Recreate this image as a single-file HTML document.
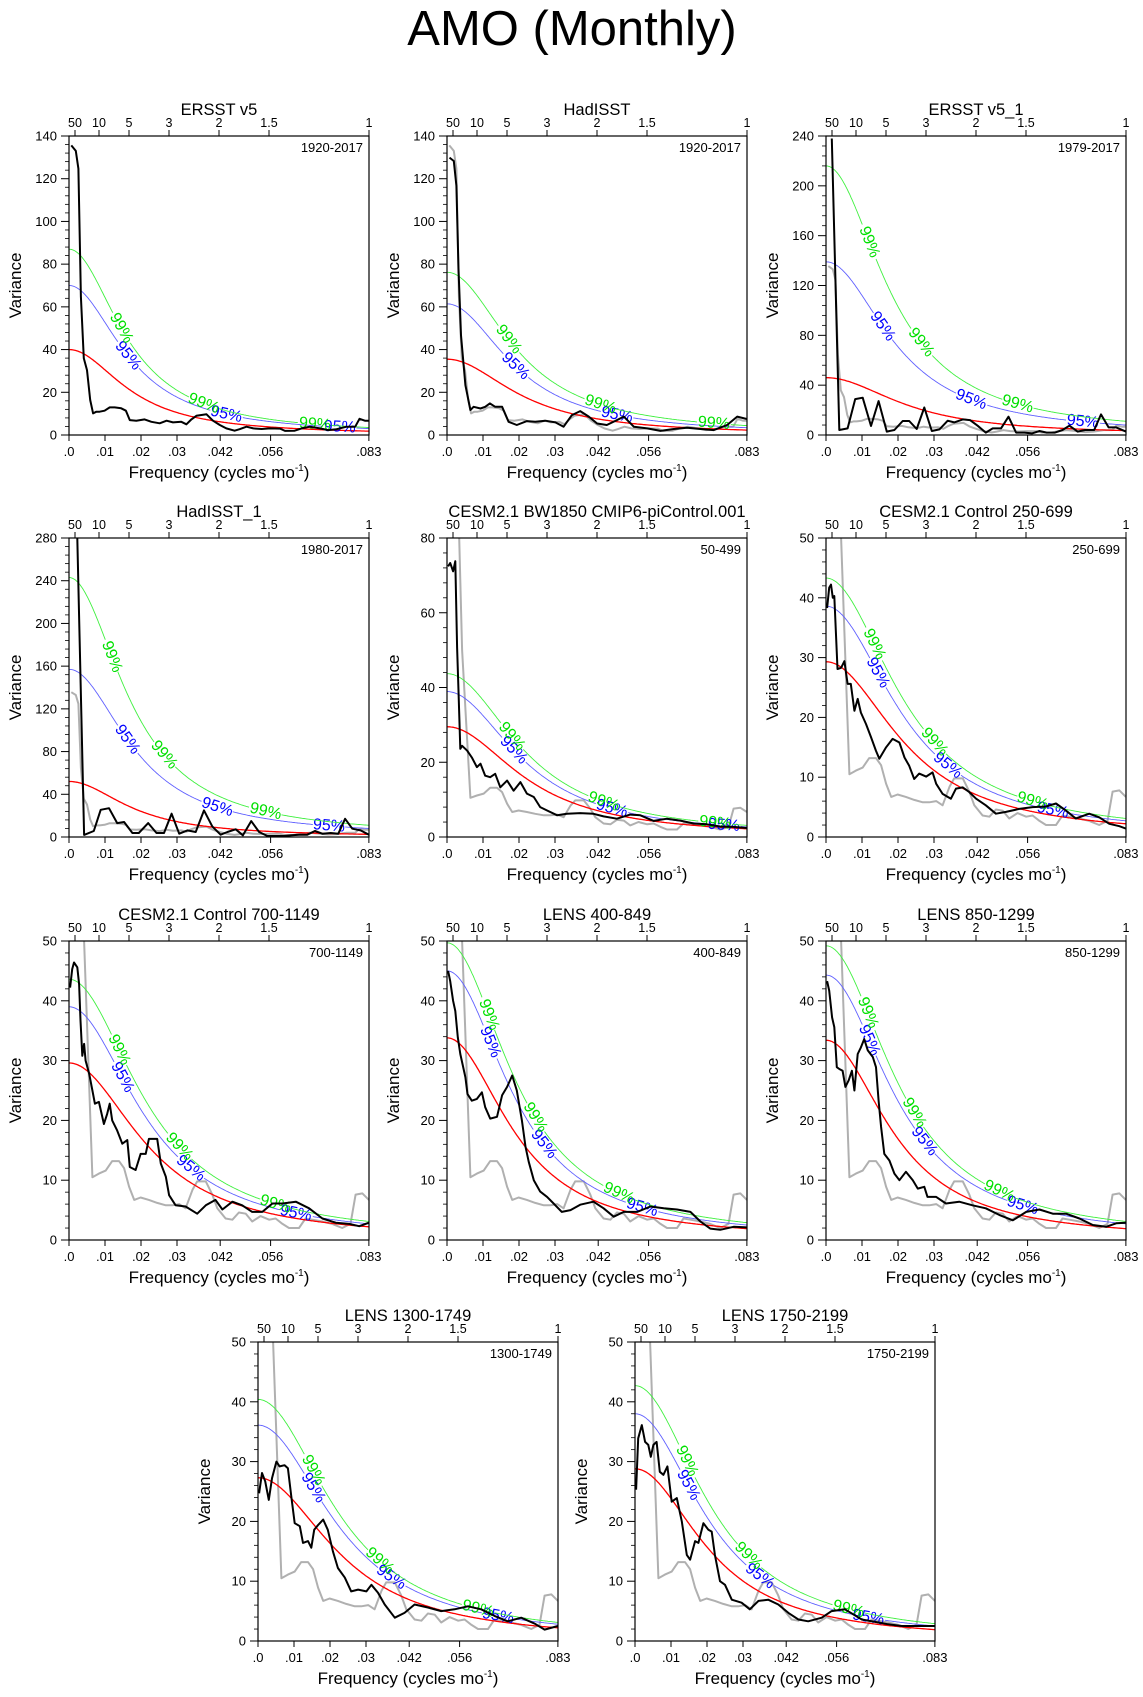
<!DOCTYPE html>
<html><head><meta charset="utf-8"><title>AMO (Monthly)</title>
<style>
html,body{margin:0;padding:0;background:#fff;}
svg{display:block;font-family:"Liberation Sans",Arial,sans-serif;}
</style></head>
<body>
<svg id="fig" width="1143" height="1697" viewBox="0 0 1143 1697" xmlns="http://www.w3.org/2000/svg">
<rect x="0" y="0" width="1143" height="1697" fill="#fff"/>
<text x="572" y="45" font-size="49" text-anchor="middle" fill="#000">AMO (Monthly)</text>
</svg>
<script>
// ---------- data (frequency in cycles/month, variance) ----------
const xTickValues=[0,0.01,0.02,0.03,0.042,0.056,0.0833];
const xTickLabels=['.0','.01','.02','.03','.042','.056','.083'];
const periodTicks=[50,10,5,3,2,1.5,1];
const periodLabels=['50','10','5','3','2','1.5','1'];

const ersstFreq=[.00065,.0019,.0026,.0033,.0041,.005,.0059,.0067,.0076,.0085,.0099,.0113,.0127,.0145,.0158,.0169,.0187,.021,.0229,.0252,.0271,.0289,.0312,.0326,.034,.0354,.0382,.04,.0419,.0437,.046,.0474,.0493,.0512,.0535,.0558,.0586,.06,.0627,.0646,.0669,.0697,.072,.0743,.0771,.0795,.0807,.0822,.0833];
const ersstVar=[135.6,133,124.7,64.7,35.9,30.4,16.4,10.1,10.9,10.9,11.4,12.9,12.9,12.5,11.4,7.0,6.7,7.3,6.2,5.5,6.7,5.9,6.2,5.0,7.3,9.0,9.7,6.7,4.7,3.1,2.0,2.7,3.9,3.1,2.8,3.1,3.0,1.9,2.0,3.1,3.9,3.1,2.3,2.7,3.9,3.9,7.6,6.7,6.7];

const hadFreq=[.0007,.0019,.0026,.0032,.0039,.0051,.0065,.0074,.0093,.0106,.0119,.0134,.0153,.0171,.0194,.0222,.0245,.0273,.0301,.0324,.0347,.037,.0394,.0417,.0444,.0472,.0491,.0519,.0556,.0593,.063,.0667,.0704,.0741,.0778,.0806,.0833];
const hadVar=[129.9,128.3,116.7,77.8,46.7,23.3,11.7,13.2,12.4,13.2,14.8,13.2,13.2,6.2,4.7,6.5,6.2,6.7,5.9,3.9,9.3,11.2,8.6,5.4,4.7,7.0,8.6,3.9,3.1,1.9,2.8,3.4,2.8,2.3,4.7,8.6,7.5];

const ersst1Freq=[.0016,.0037,.006,.0081,.0102,.0125,.0146,.0169,.019,.0213,.0231,.0252,.0273,.0294,.0315,.0338,.0356,.038,.04,.0421,.0444,.0463,.0486,.0507,.0528,.0551,.0572,.0593,.0613,.0636,.0657,.0676,.0699,.072,.0745,.0764,.0785,.0806,.0833];
const ersst1Var=[238,4,5.3,28.8,29.9,7.2,27.2,2.7,4,11.2,11.2,4.8,22.1,3.2,4.5,11.5,10.1,12.5,12,7.5,1.9,5.3,5.3,14.7,1.9,1.9,1.3,3.2,1.9,1.9,4,7.5,2.7,4,4,16.5,6.1,6.1,2.7];

const had1Freq=[.0009,.0023,.0042,.0069,.0088,.0111,.0134,.0153,.0176,.0194,.022,.0243,.0264,.0285,.0306,.0329,.0352,.0375,.0398,.0421,.044,.0463,.0483,.0506,.0528,.0551,.0574,.0597,.0619,.0639,.0662,.0683,.0704,.0727,.0748,.0767,.0787,.081,.0833];
const had1Var=[320,280,2,5.6,25.5,27,13,14,3.7,3.7,13,3.7,3.7,21.8,3.1,6.2,4.7,24.9,9.9,2.2,4.7,7.2,1.6,14.9,4.7,0.9,0.9,0.9,1.6,2.2,2.2,5.6,3.1,3.7,3.1,17,7.8,6.2,2.2];

const obsRefFreq=[.0005,.0025,.0034,.0042,.0065,.0083,.0102,.012,.0139,.0153,.0167,.0181,.0199,.0222,.0245,.0269,.0287,.0306,.0324,.0343,.0356,.038,.0398,.0412,.0435,.0454,.0472,.0491,.0509,.0532,.0556,.0574,.0593,.0611,.0639,.0657,.0676,.0704,.0731,.0759,.0782,.0796,.0815,.0833];
const obsRefVar=[140,135,80,50,10.5,11.1,11.6,13.2,13.2,12,8.9,6.7,7.1,6.7,6.2,5.8,5.8,6,5.3,8.4,9.8,9.8,7.6,5.3,3.6,3.4,4.6,4.4,3.1,4,3.4,3.6,2.7,2,2,3.6,3.4,3.1,2.7,2,2.7,7.6,7.8,6.7];

const bw1850Freq=[.0003,.0009,.0017,.0023,.0028,.0032,.0037,.0042,.0056,.0069,.0083,.0093,.0106,.012,.0134,.0148,.0167,.0185,.0204,.0222,.0241,.0259,.0278,.0306,.0333,.037,.0407,.0435,.0472,.0509,.0537,.0574,.0611,.0648,.0685,.0722,.0759,.0796,.0833];
const bw1850Var=[72.4,73.3,71.1,73.8,50.7,39.1,23.6,24.4,23.1,21.3,18.7,19.6,16.4,16,16.9,13.3,15.1,12.4,14.7,11.6,10.7,8,7.1,5.8,6.2,6.4,6.2,5.5,4.9,6,5.8,4.3,4.9,4.4,3.6,3.4,2.8,2.7,2.4];

const c250Freq=[.0003,.0009,.0014,.0019,.0023,.0032,.0042,.0051,.006,.0069,.0079,.0088,.0097,.0111,.0125,.0139,.0148,.0167,.0185,.0204,.0218,.0231,.0245,.0259,.0278,.0296,.0306,.0324,.0347,.0361,.038,.0398,.0417,.0444,.0472,.05,.0537,.0574,.0611,.0639,.0667,.0694,.0731,.0759,.0787,.0815,.0833];
const c250Var=[38.3,41.7,42.2,40,40.3,28.1,28.3,29.4,25.6,25.6,21.1,23.1,20.8,18.9,16.7,14.4,13.1,15,16.4,15.8,13.3,11.9,9.7,10.6,10.1,10.8,8.9,7.2,6.4,8.1,8.3,7.5,6.4,5.3,3.9,4.2,4.7,5,5.1,5.6,4.4,3.1,3.9,3.3,2.2,1.8,1.4];

const c700Freq=[.0003,.0009,.0014,.0023,.0028,.0032,.0037,.0042,.0046,.0056,.0065,.0072,.0083,.0097,.0106,.0113,.012,.0134,.0148,.0162,.0169,.0185,.0199,.0213,.0222,.0245,.0255,.0269,.0278,.0296,.0324,.0356,.038,.0407,.0426,.0454,.0481,.0509,.0537,.0565,.0593,.063,.0667,.0704,.0741,.0778,.0806,.0833];
const c700Var=[42.2,45.3,46.4,45.6,42.8,36.7,30.8,32.8,30,27.8,25,22.8,23.1,19.4,21.1,22.8,20,18.3,16.1,16.7,12.2,11.7,14.4,14.4,16.9,16.9,12.8,10.6,7.5,5.8,5.6,4.4,5.8,6.7,5.1,6.4,5.8,4.7,4.7,6.1,6.1,6.4,5.3,3.6,2.9,2.7,2.3,2.9];

const l400Freq=[.0003,.0009,.0017,.0023,.003,.0037,.0044,.0051,.0057,.0069,.0083,.0097,.0106,.012,.0139,.0153,.0167,.0181,.0194,.0208,.0218,.0227,.0241,.0259,.0278,.0296,.0319,.0343,.037,.0407,.0435,.0463,.0491,.0528,.0565,.0602,.0639,.0676,.0704,.0731,.0759,.0796,.0833];
const l400Var=[45,43.3,40,38.3,33.9,31.1,29.2,27.2,24.4,23.3,23.6,24.7,22.2,20.3,20.6,24.2,25.6,27.5,25,20,15.6,13.1,10,8.1,7.2,6.1,4.7,5,5.9,6.4,5.3,3.9,4.7,4.7,5.6,5.3,5.1,4.7,3.1,1.9,1.7,2.2,2.1];

const l850Freq=[.0003,.0009,.0017,.0023,.003,.0037,.0046,.0054,.0063,.0072,.0079,.0088,.0097,.0106,.0116,.013,.0139,.0146,.0153,.0162,.0176,.019,.0204,.0222,.0241,.0255,.0273,.0282,.0306,.0333,.037,.0407,.0444,.0481,.0519,.0556,.0593,.063,.0667,.0704,.0741,.0778,.0806,.0833];
const l850Var=[43.3,41.7,37.2,35.6,28.9,28.6,28.3,25.6,26.7,28.3,25,31.1,32.2,33.6,31.7,30.6,28.9,23.3,18.9,14.4,13.3,11.1,10,11.4,10,8.6,8.9,7.2,7.2,6.1,6.4,5.8,5.3,4.2,3.3,4.7,5.1,4.4,4.4,3.6,2.5,2.2,2.8,2.9];

const l1300Freq=[.0003,.0011,.002,.003,.0039,.0051,.006,.0074,.0083,.0093,.0102,.0116,.0125,.0139,.0148,.0156,.0167,.0181,.0194,.0208,.0222,.0241,.0259,.0278,.0301,.0315,.0333,.0352,.038,.0407,.0435,.0472,.0509,.0546,.0583,.062,.0657,.0694,.0731,.0769,.0796,.0833];
const l1300Var=[24.7,28.1,26.7,23.6,27.2,30,29.2,29.4,28.9,23.9,19.7,19.2,16.4,16.7,15.6,18.6,19.4,20.3,18.6,15,12.2,10.6,8.3,8.6,8.3,9.4,8.1,6.1,3.9,4.7,6.1,5.6,5,5.3,5.8,5.3,4.2,3.3,3.9,2.9,1.9,2.5];

const l1750Freq=[.0003,.0009,.0019,.0028,.0037,.0044,.0051,.006,.0069,.0079,.009,.0102,.0116,.013,.0144,.0153,.0167,.0176,.019,.0204,.0213,.0222,.0236,.025,.0269,.0296,.0319,.0343,.037,.0398,.0426,.0454,.0481,.0519,.0546,.0583,.063,.0667,.0704,.0741,.0787,.0833];
const l1750Var=[25.3,33.9,36.1,33.3,32.8,30.8,32.8,33.3,28.3,27.8,29.2,23.3,23.9,20,14.4,13.6,16.7,16.4,19.7,18.6,18.3,14.4,10,9.4,6.9,6.4,5.3,6.7,6.9,6.1,4.7,3.6,3.3,3.9,5,5.3,3.6,3.2,2.8,2.5,2.5,2.5];

// red-noise and significance curves: [value at f=0, value at f=1/12]
const redStart=[40,35.5,46,52,29.5,29.3,29.6,33.8,33.4,27.3,28.8];
const redEnd=[1.8,2.3,3.5,2.5,2.2,2.2,2.2,1.9,1.9,2.2,1.9];
const blueStart=[70,61.4,139,157,38.9,38.6,39,45,44.3,36.1,38];
const blueEnd=[3.0,3.4,8,8,2.7,2.7,2.7,2.5,2.7,2.8,2.5];
const greenStart=[87,76.2,216,243,43.7,43.3,43.6,49.7,49.2,40.4,42.7];
const greenEnd=[3.5,4.4,11,11,3.1,3.1,3.1,2.9,3.1,3.1,2.9];
// label positions (frequency) along the 99% / 95% curves
const label99=[[.0145,.0374,.0683],[.0171,.0426,.0741],[.012,.0264,.0532],[.0119,.0264,.0546],[.018,.0435,.0745],[.0134,.0301,.0574],[.0139,.0306,.0574],[.0116,.0245,.0477],[.0116,.0245,.0481],[.0153,.0338,.0611],[.0144,.0315,.0593]];
const label95=[[.0164,.0437,.0752],[.019,.0472],[.0157,.0403,.0713],[.0162,.0412,.0722],[.0185,.0458,.0769],[.0144,.0338,.063],[.0148,.0338,.063],[.012,.0269,.0542],[.012,.0273,.0546],[.0153,.037,.0667],[.0148,.0347,.0648]];

const titles=['ERSST v5','HadISST','ERSST v5_1','HadISST_1','CESM2.1 BW1850 CMIP6-piControl.001','CESM2.1 Control 250-699','CESM2.1 Control 700-1149','LENS 400-849','LENS 850-1299','LENS 1300-1749','LENS 1750-2199'];
const periods=['1920-2017','1920-2017','1979-2017','1980-2017','50-499','250-699','700-1149','400-849','850-1299','1300-1749','1750-2199'];
const yMaxes=[140,140,240,280,80,50,50,50,50,50,50];
const yStepSizes=[20,20,40,40,20,10,10,10,10,10,10];

// ---------- layout ----------
const PX=[69,447,826,69,447,826,69,447,826,258,635];
const PY=[136,136,136,538,538,538,941,941,941,1342,1342];
const W=300,H=299,FMAX=1/12;
const blackF=[ersstFreq,hadFreq,ersst1Freq,had1Freq,bw1850Freq,c250Freq,c700Freq,l400Freq,l850Freq,l1300Freq,l1750Freq];
const blackV=[ersstVar,hadVar,ersst1Var,had1Var,bw1850Var,c250Var,c700Var,l400Var,l850Var,l1300Var,l1750Var];

const NS='http://www.w3.org/2000/svg';
const svg=document.getElementById('fig');
function mk(tag,attrs,parent){const e=document.createElementNS(NS,tag);for(const k in attrs)e.setAttribute(k,attrs[k]);(parent||svg).appendChild(e);return e;}

function shape(f,r){return (1-r)*(1-r)/(1-2*r*Math.cos(2*Math.PI*f)+r*r);}
function solveR(ratio){let lo=0,hi=0.9999;for(let i=0;i<60;i++){const m=(lo+hi)/2;if(shape(FMAX,m)>ratio)lo=m;else hi=m;}return (lo+hi)/2;}

for(let p=0;p<11;p++){
  const x0=PX[p],y0=PY[p],ymax=yMaxes[p];
  const X=f=>x0+f/FMAX*W;
  const Y=v=>y0+H-v/ymax*H;
  const g=mk('g',{});
  
  
  const cid='clip'+p;
  const cp=mk('clipPath',{id:cid},g);
  mk('rect',{x:x0,y:y0,width:W,height:H},cp);

  const t=mk('text',{x:x0+W/2,y:y0-21,'font-size':16.5,'text-anchor':'middle',fill:'#000'},g);
  t.textContent=titles[p];
  
  
  const pr=mk('text',{x:x0+W-6,y:y0+16,'font-size':13,'text-anchor':'end',fill:'#000'},g);
  pr.textContent=periods[p];
  
  
  const yl=mk('text',{x:0,y:0,'font-size':17,'text-anchor':'middle',fill:'#000',transform:`translate(${x0-48},${y0+H/2}) rotate(-90)`},g);
  yl.textContent='Variance';
  
  
  const xl=mk('text',{x:x0+W/2,y:y0+H+43,'font-size':17,'text-anchor':'middle',fill:'#000'},g);
  
  
  xl.appendChild(document.createTextNode('Frequency (cycles mo'));
  const sup=mk('tspan',{'font-size':10,dy:-7},xl);sup.textContent='-1';
  const cl=mk('tspan',{'font-size':17,dy:7},xl);cl.textContent=')';

  const step=yStepSizes[p];
  for(let v=0;v<=ymax+1e-9;v+=step){
    mk('line',{x1:x0-8,x2:x0,y1:Y(v),y2:Y(v),stroke:'#000','stroke-width':1},g);
    const tl=mk('text',{x:x0-12,y:Y(v)+4.5,'font-size':13,'text-anchor':'end',fill:'#000'},g);
    tl.textContent=String(v);
    
    
  }
  for(let v=0;v<ymax-1e-9;v+=step/5){
    if(Math.abs(v/step-Math.round(v/step))<1e-6)continue;
    mk('line',{x1:x0-4,x2:x0,y1:Y(v),y2:Y(v),stroke:'#000','stroke-width':0.8},g);
  }
  xTickValues.forEach((f,i)=>{
    mk('line',{x1:X(f),x2:X(f),y1:y0+H,y2:y0+H+6,stroke:'#000','stroke-width':1},g);
    const tl=mk('text',{x:X(f),y:y0+H+21,'font-size':13,'text-anchor':'middle',fill:'#000'},g);
    tl.textContent=xTickLabels[i];
    
    
  });
  periodTicks.forEach((per,i)=>{
    const f=1/(12*per);
    mk('line',{x1:X(f),x2:X(f),y1:y0,y2:y0-6,stroke:'#000','stroke-width':1},g);
    const tl=mk('text',{x:X(f),y:y0-9,'font-size':12.5,'text-anchor':'middle',fill:'#000'},g);
    tl.textContent=periodLabels[i];
    
    
  });

  let gF=null,gV=null;
  if(p>=1&&p<=3){gF=ersstFreq;gV=ersstVar;}
  else if(p>=4){gF=obsRefFreq;gV=obsRefVar;}
  if(gF){
    const pts=gF.map((f,i)=>X(f).toFixed(1)+','+Y(gV[i]).toFixed(1)).join(' ');
    const gl=mk('polyline',{points:pts,fill:'none',stroke:'#b0b0b0','stroke-width':2,'clip-path':`url(#${cid})`,'stroke-linejoin':'round'},g);
    
    
  }

  function curvePts(v0,v1){const r=solveR(v1/v0);const a=[];for(let i=0;i<=240;i++){const f=i/240*FMAX;a.push([X(f),Y(v0*shape(f,r)),f]);}return {a,r};}
  function drawCurve(v0,v1,color,width,labels,text,tcolor,name){
    const {a,r}=curvePts(v0,v1);
    const centers=(labels||[]).map(f=>[X(f),Y(v0*shape(f,r)),f]);
    let seg=[];const segs=[];
    a.forEach(pt=>{
      const near=centers.some(c=>Math.hypot(c[0]-pt[0],c[1]-pt[1])<16);
      if(near){if(seg.length>1)segs.push(seg);seg=[];}else seg.push(pt);
    });
    if(seg.length>1)segs.push(seg);
    segs.forEach(s=>{
      const l=mk('polyline',{points:s.map(q=>q[0].toFixed(1)+','+q[1].toFixed(1)).join(' '),fill:'none',stroke:color,'stroke-width':width,'clip-path':`url(#${cid})`},g);
      
      
    });
    centers.forEach(c=>{
      const d=0.0004;
      const xa=X(c[2]-d),ya=Y(v0*shape(c[2]-d,r)),xb=X(c[2]+d),yb=Y(v0*shape(c[2]+d,r));
      const ang=Math.atan2(yb-ya,xb-xa)*180/Math.PI;
      const tx=mk('text',{x:0,y:0,'font-size':16,'text-anchor':'middle','dominant-baseline':'central',fill:tcolor,transform:`translate(${c[0].toFixed(1)},${c[1].toFixed(1)}) rotate(${ang.toFixed(1)})`},g);
      tx.textContent=text;
      
      
    });
  }
  drawCurve(redStart[p],redEnd[p],'#ff0000',1.3,null,'','','red-noise-curve');
  drawCurve(blueStart[p],blueEnd[p],'#6060ff',0.9,label95[p],'95%','#0000ff','sig95-curve');
  drawCurve(greenStart[p],greenEnd[p],'#40f040',0.9,label99[p],'99%','#00e000','sig99-curve');

  const bF=blackF[p],bV=blackV[p];
  const bl=mk('polyline',{points:bF.map((f,i)=>X(f).toFixed(1)+','+Y(bV[i]).toFixed(1)).join(' '),fill:'none',stroke:'#000','stroke-width':2,'clip-path':`url(#${cid})`,'stroke-linejoin':'round'},g);
  
  

  const fr=mk('rect',{x:x0,y:y0,width:W,height:H,fill:'none',stroke:'#000','stroke-width':1.2},g);
  
  
}
</script>
</body></html>
